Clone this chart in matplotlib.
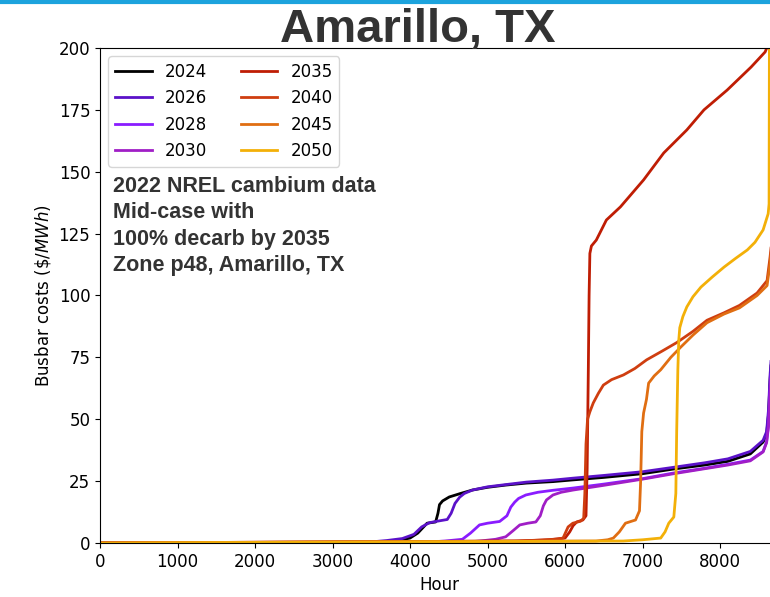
import matplotlib
matplotlib.use("Agg")
import matplotlib.pyplot as plt
from matplotlib.lines import Line2D

# duration curves (hour of year, busbar cost in $/MWh)
hours_2024 = [0, 3600, 3800, 4000, 4100, 4220, 4330, 4360, 4380, 4420, 4506, 4650, 4805, 5000,
              5234, 5500, 5844, 6104, 6500, 7000, 7403, 7800, 8100, 8390, 8555, 8600, 8625, 8645, 8760]
costs_2024 = [0, 0.3, 0.8, 2, 4, 8, 8.5, 12, 15.5, 17, 18.6, 20, 21.4, 22.5,
              23.4, 24.2, 24.8, 25.5, 26.5, 28, 29.9, 31.5, 33, 36, 40.8, 44, 52, 66, 120]

hours_2026 = [0, 3450, 3700, 3900, 4050, 4150, 4250, 4350, 4480, 4530, 4580, 4640, 4700, 4805,
              5000, 5234, 5500, 5844, 6104, 6500, 7000, 7403, 7800, 8100, 8390, 8555, 8600, 8625,
              8645, 8760]
costs_2026 = [0, 0.3, 1, 1.8, 3.5, 6.5, 8.2, 8.8, 9.5, 12, 16, 18.5, 20, 21.4,
              22.7, 23.6, 24.6, 25.4, 26.2, 27.3, 28.8, 30.6, 32.4, 34, 37, 41.5, 45, 54,
              68, 120]

hours_2028 = [0, 4200, 4450, 4675, 4780, 4896, 5000, 5156, 5250, 5300, 5350, 5400, 5494, 5650,
              5844, 6104, 6500, 7000, 7403, 7800, 8100, 8390, 8555, 8600, 8625, 8645, 8760]
costs_2028 = [0, 0.3, 0.8, 1.5, 4, 7.3, 8, 8.7, 11, 14.5, 16.5, 18, 19.4, 20.5,
              21.3, 22.2, 23.8, 26, 28.3, 30.2, 31.8, 33.5, 37, 41, 48, 62, 120]

hours_2030 = [0, 4700, 4900, 5104, 5234, 5330, 5416, 5520, 5623, 5680, 5720, 5760, 5844, 5950,
              6104, 6500, 7000, 7403, 7800, 8100, 8390, 8555, 8600, 8625, 8645, 8760]
costs_2030 = [0, 0.3, 0.8, 1.5, 2.5, 5, 7.3, 8, 8.5, 11, 15, 17.4, 19.4, 20.5,
              21.4, 23.3, 25.8, 28, 30, 31.5, 33.2, 36.8, 40.5, 47, 60, 120]

hours_2035 = [0, 5400, 5800, 6000, 6060, 6104, 6150, 6230, 6270, 6285, 6300, 6310, 6320, 6340,
              6403, 6533, 6714, 7013, 7273, 7571, 7792, 8091, 8400, 8581, 8615, 8760]
costs_2035 = [0, 0.8, 1.3, 2, 4.5, 7, 8.5, 9.3, 11, 30, 70, 100, 117, 120,
              122.4, 130.5, 135.8, 146.7, 157.6, 166.9, 175, 183, 192.3, 198.4, 201, 240]

hours_2040 = [0, 5350, 5700, 5900, 5974, 6039, 6100, 6200, 6240, 6255, 6270, 6290, 6320, 6364,
              6430, 6494, 6600, 6753, 6900, 7052, 7250, 7442, 7650, 7831, 8050, 8250, 8477,
              8606, 8645, 8760]
costs_2040 = [0, 0.8, 1.2, 1.6, 2, 6.5, 8, 8.8, 10, 20, 40, 50, 53, 56.6,
              60.5, 63.8, 66, 67.9, 70.5, 74, 77.5, 81, 85.5, 90, 93, 96, 101,
              106, 115.6, 150]

hours_2045 = [0, 6400, 6550, 6623, 6700, 6779, 6909, 6960, 6975, 6990, 7013, 7050, 7078, 7150,
              7234, 7364, 7494, 7650, 7831, 8050, 8250, 8477, 8606, 8645, 8760]
costs_2045 = [0, 0.8, 1.3, 2, 4.5, 8, 9.3, 13, 25, 45, 52.5, 58, 64.6, 67.5,
              70, 75, 79.2, 84, 89, 92.5, 95, 100, 104, 113, 150]

hours_2050 = [0, 6750, 7000, 7234, 7290, 7338, 7403, 7429, 7440, 7455, 7467, 7480, 7520, 7571,
              7650, 7753, 7900, 8052, 8200, 8351, 8450, 8555, 8620, 8632, 8640, 8760]
costs_2050 = [0, 0.8, 1.3, 2, 4.5, 8, 10.5, 20, 45, 70, 82, 87, 91.5, 95.4,
              99.5, 103.4, 107.5, 111.5, 115, 118.4, 121.5, 126.5, 133, 137, 260, 300]

years = ["2024", "2026", "2028", "2030", "2035", "2040", "2045", "2050"]
curves = [
    (hours_2024, costs_2024), (hours_2026, costs_2026), (hours_2028, costs_2028),
    (hours_2030, costs_2030), (hours_2035, costs_2035), (hours_2040, costs_2040),
    (hours_2045, costs_2045), (hours_2050, costs_2050),
]
colors = ["#000000", "#5b12c9", "#8a1cff", "#a01ec6",
          "#bf1d04", "#cf3e10", "#e06e12", "#f3b008"]

note = "2022 NREL cambium data\nMid-case with\n100% decarb by 2035\nZone p48, Amarillo, TX"


def main():
    fig = plt.figure(figsize=(7.7, 5.97), dpi=100)
    # slide banner line along the top edge
    fig.add_artist(Line2D([0, 1], [0.996, 0.996], transform=fig.transFigure,
                          color="#1ca3dd", linewidth=3))
    fig.text(0.543, 0.93, "Amarillo, TX", ha="center", va="baseline",
             fontsize=34, fontweight="bold", family="Liberation Sans", color="#333333")

    ax = fig.add_axes([100 / 770, 54 / 597, 679 / 770, 495 / 597])
    for year, (hours, costs), color in zip(years, curves, colors):
        ax.plot(hours, costs, color=color, linewidth=2.0, label=year)

    ax.set_xlim(0, 8760)
    ax.set_ylim(0, 200)
    ax.set_xticks(range(0, 9000, 1000))
    ax.set_yticks(range(0, 201, 25))
    ax.tick_params(labelsize=12)
    ax.set_xlabel("Hour", fontsize=12)
    ax.set_ylabel(r"Busbar costs (\$/$MWh$)", fontsize=12)
    ax.legend(loc="upper left", ncol=2, fontsize=12, handlelength=2.2, columnspacing=2.0)
    ax.text(0.019, 0.742, note, transform=ax.transAxes, ha="left", va="top",
            fontsize=15.5, fontweight="bold", family="Liberation Sans", color="#333333",
            linespacing=1.34)

    fig.savefig("out.png", dpi=100)


if __name__ == "__main__":
    main()
